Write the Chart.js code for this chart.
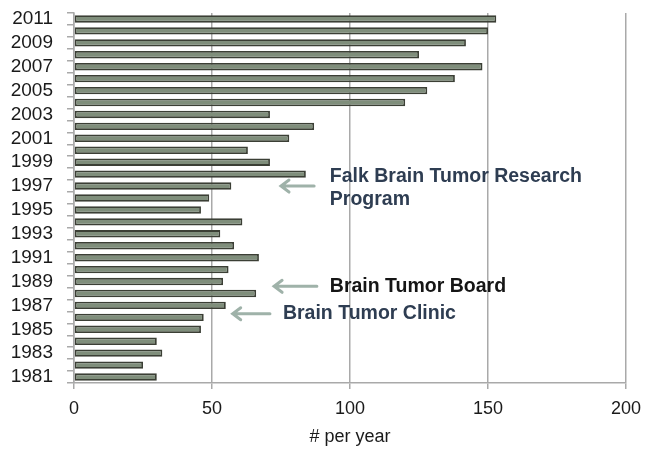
<!DOCTYPE html>
<html>
<head>
<meta charset="utf-8">
<script src="https://cdn.jsdelivr.net/npm/chart.js@4"></script>
<style>
  html, body { margin: 0; padding: 0; background: #fff; }
  #wrap { width: 646px; height: 450px; }
</style>
</head>
<body>
<div id="wrap"><canvas id="chart"></canvas></div>
<script>
// Years top to bottom, as in the picture
const years = [2011, 2010, 2009, 2008, 2007, 2006, 2005, 2004, 2003, 2002, 2001,
  2000, 1999, 1998, 1997, 1996, 1995, 1994, 1993, 1992, 1991,
  1990, 1989, 1988, 1987, 1986, 1985, 1984, 1983, 1982, 1981];
const perYear = [153, 150, 142, 125, 148, 138, 128, 120, 71, 87, 78,
  63, 71, 84, 57, 49, 46, 61, 53, 58, 67,
  56, 54, 66, 55, 47, 46, 30, 32, 25, 30];
const xTicks = [0, 50, 100, 150, 200];

// Callouts: text lines, anchor (value, year) and arrow from/to values at a year
const notes = [
  { lines: ['Falk Brain Tumor Research', 'Program'], x: 92.7, year: 1997.75, color: '#2e3d52',
    arrow: { from: 87, to: 75, year: 1997.0 } },
  { lines: ['Brain Tumor Board'], x: 92.7, year: 1988.6, color: '#151515',
    arrow: { from: 88, to: 72.5, year: 1988.6 } },
  { lines: ['Brain Tumor Clinic'], x: 75.7, year: 1986.3, color: '#2e3d52',
    arrow: { from: 71, to: 57.5, year: 1986.3 } },
];

const FONT = "'Liberation Sans', Arial, sans-serif";
const AXIS_GRAY = '#a9a9a9';

// y for a (possibly fractional) year through the category scale
function yearToPixel(scale, year) {
  return scale.getPixelForValue(2011 - year);
}

const calloutPlugin = {
  id: 'callouts',
  afterDatasetsDraw(chart) {
    const { ctx } = chart;
    const xs = chart.scales.x, ys = chart.scales.y;
    ctx.save();
    notes.forEach((n) => {
      // arrow
      const ay = yearToPixel(ys, n.arrow.year);
      const x1 = xs.getPixelForValue(n.arrow.from);
      const x2 = xs.getPixelForValue(n.arrow.to);
      ctx.strokeStyle = '#9fb2a9';
      ctx.lineWidth = 3;
      ctx.lineCap = 'round';
      ctx.beginPath();
      ctx.moveTo(x1, ay);
      ctx.lineTo(x2, ay);
      ctx.moveTo(x2 + 8, ay - 6);
      ctx.lineTo(x2, ay);
      ctx.lineTo(x2 + 8, ay + 6);
      ctx.stroke();
      // text
      ctx.fillStyle = n.color;
      ctx.font = 'bold 19.5px ' + FONT;
      ctx.textAlign = 'left';
      ctx.textBaseline = 'middle';
      const tx = xs.getPixelForValue(n.x);
      const ty = yearToPixel(ys, n.year);
      n.lines.forEach((line, i) => ctx.fillText(line, tx, ty + i * 23));
    });
    ctx.restore();
  },
};

new Chart(document.getElementById('chart'), {
  type: 'bar',
  data: {
    labels: years.map(String),
    datasets: [{
      data: perYear,
      backgroundColor: '#7f8e7b',
      borderColor: '#3b3f35',
      borderWidth: 1.8,
      borderSkipped: false,
      categoryPercentage: 1,
      barPercentage: 0.62,
    }],
  },
  options: {
    indexAxis: 'y',
    responsive: true,
    maintainAspectRatio: false,
    animation: false,
    layout: { padding: { left: 0, top: 13, right: 20, bottom: 0 } },
    plugins: {
      legend: { display: false },
      tooltip: { enabled: false },
    },
    scales: {
      x: {
        min: 0,
        max: 200,
        afterBuildTicks: (scale) => { scale.ticks = xTicks.map((v) => ({ value: v })); },
        afterFit: (scale) => {
          scale.height = 67;
          scale.paddingLeft = 0;
          scale.paddingRight = 0;
        },
        grid: { color: AXIS_GRAY, lineWidth: 1.5, tickLength: 6 },
        border: { color: AXIS_GRAY, width: 1.5 },
        ticks: { color: '#1a1a1a', font: { family: FONT, size: 18 }, padding: 9 },
        title: {
          display: true,
          text: '# per year',
          color: '#1a1a1a',
          font: { family: FONT, size: 18 },
          padding: { top: 4, bottom: 2 },
        },
      },
      y: {
        afterFit: (scale) => {
          scale.width = 74;
          scale.paddingTop = 0;
          scale.paddingBottom = 0;
        },
        grid: { drawOnChartArea: false, offset: true, color: AXIS_GRAY, lineWidth: 1.5, tickLength: 7 },
        border: { color: AXIS_GRAY, width: 1.5 },
        ticks: {
          autoSkip: false,
          color: '#1a1a1a',
          font: { family: FONT, size: 19 },
          padding: 14,
          callback: (v, i) => (years[i] % 2 === 1 ? String(years[i]) : ''),
        },
      },
    },
  },
  plugins: [calloutPlugin],
});
</script>
</body>
</html>
